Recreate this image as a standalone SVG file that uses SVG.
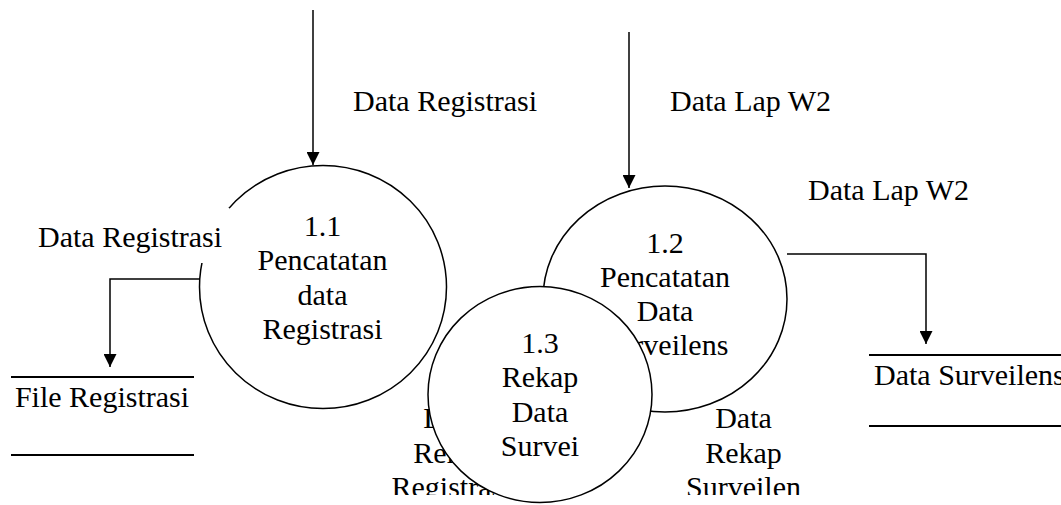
<svg xmlns="http://www.w3.org/2000/svg" width="1061" height="505" viewBox="0 0 1061 505">
<style>
text{font-family:"Liberation Serif","Times New Roman",serif;font-size:30px;fill:#000}
.c{text-anchor:middle}
.proc{fill:#fff;stroke:#000;stroke-width:1.5}
.flow{fill:none;stroke:#000;stroke-width:1.5}
.store{stroke:#000;stroke-width:2}
</style>
<defs>
<marker id="ah" markerUnits="userSpaceOnUse" markerWidth="13" markerHeight="13" viewBox="0 0 12 12" refX="12" refY="6" orient="auto">
<path d="M0,0 L12,6 L0,12 z" fill="#000"/>
</marker>
<clipPath id="clipBottom"><rect x="0" y="0" width="1061" height="495"/></clipPath>
</defs>
<g id="connectors">
<line class="flow" x1="313" y1="10" x2="313" y2="165" marker-end="url(#ah)"/>
<line class="flow" x1="629" y1="32" x2="629" y2="188" marker-end="url(#ah)"/>
<polyline class="flow" points="200,279 110,279 110,367" marker-end="url(#ah)"/>
<polyline class="flow" points="787,254 926,254 926,344" marker-end="url(#ah)"/>
</g>
<g id="labels">
<text x="353" y="111">Data Registrasi</text>
<text x="670" y="111">Data Lap W2</text>
<text x="808" y="200">Data Lap W2</text>
</g>
<g id="store-file-registrasi">
<line class="store" x1="11" y1="377" x2="194" y2="377"/>
<line class="store" x1="11" y1="455" x2="194" y2="455"/>
<text class="c" x="102" y="407">File Registrasi</text>
</g>
<g id="store-data-surveilens">
<line class="store" x1="869" y1="355" x2="1061" y2="355"/>
<line class="store" x1="869" y1="426" x2="1061" y2="426"/>
<text x="874" y="385">Data Surveilens</text>
</g>
<g id="p11">
<ellipse class="proc" cx="323" cy="287" rx="123.5" ry="121.5"/>
<text class="c" x="322.5" y="236">1.1</text>
<text class="c" x="322.5" y="270.3">Pencatatan</text>
<text class="c" x="322.5" y="304.6">data</text>
<text class="c" x="322.5" y="338.9">Registrasi</text>
</g>
<g id="label-data-registrasi-left">
<rect x="30" y="208" width="199.5" height="55" fill="#fff"/>
<text x="38" y="247">Data Registrasi</text>
</g>
<g id="p12">
<ellipse class="proc" cx="665" cy="299" rx="122" ry="113"/>
<text class="c" x="665" y="252.5">1.2</text>
<text class="c" x="665" y="286.8">Pencatatan</text>
<text class="c" x="665" y="321.1">Data</text>
<text class="c" x="665" y="355.4">Surveilens</text>
</g>
<g id="label-rekap" clip-path="url(#clipBottom)">
<text class="c" x="451.5" y="428">Data</text>
<text class="c" x="451.5" y="462.5">Rekap</text>
<text class="c" x="451.5" y="497">Registrasi</text>
<text class="c" x="743.5" y="428">Data</text>
<text class="c" x="743.5" y="462.5">Rekap</text>
<text class="c" x="743.5" y="497">Surveilen</text>
</g>
<g id="p13">
<ellipse class="proc" cx="540" cy="394.5" rx="112" ry="108"/>
<text class="c" x="540" y="353">1.3</text>
<text class="c" x="540" y="387.3">Rekap</text>
<text class="c" x="540" y="421.6">Data</text>
<text class="c" x="540" y="455.9">Survei</text>
</g>
</svg>
